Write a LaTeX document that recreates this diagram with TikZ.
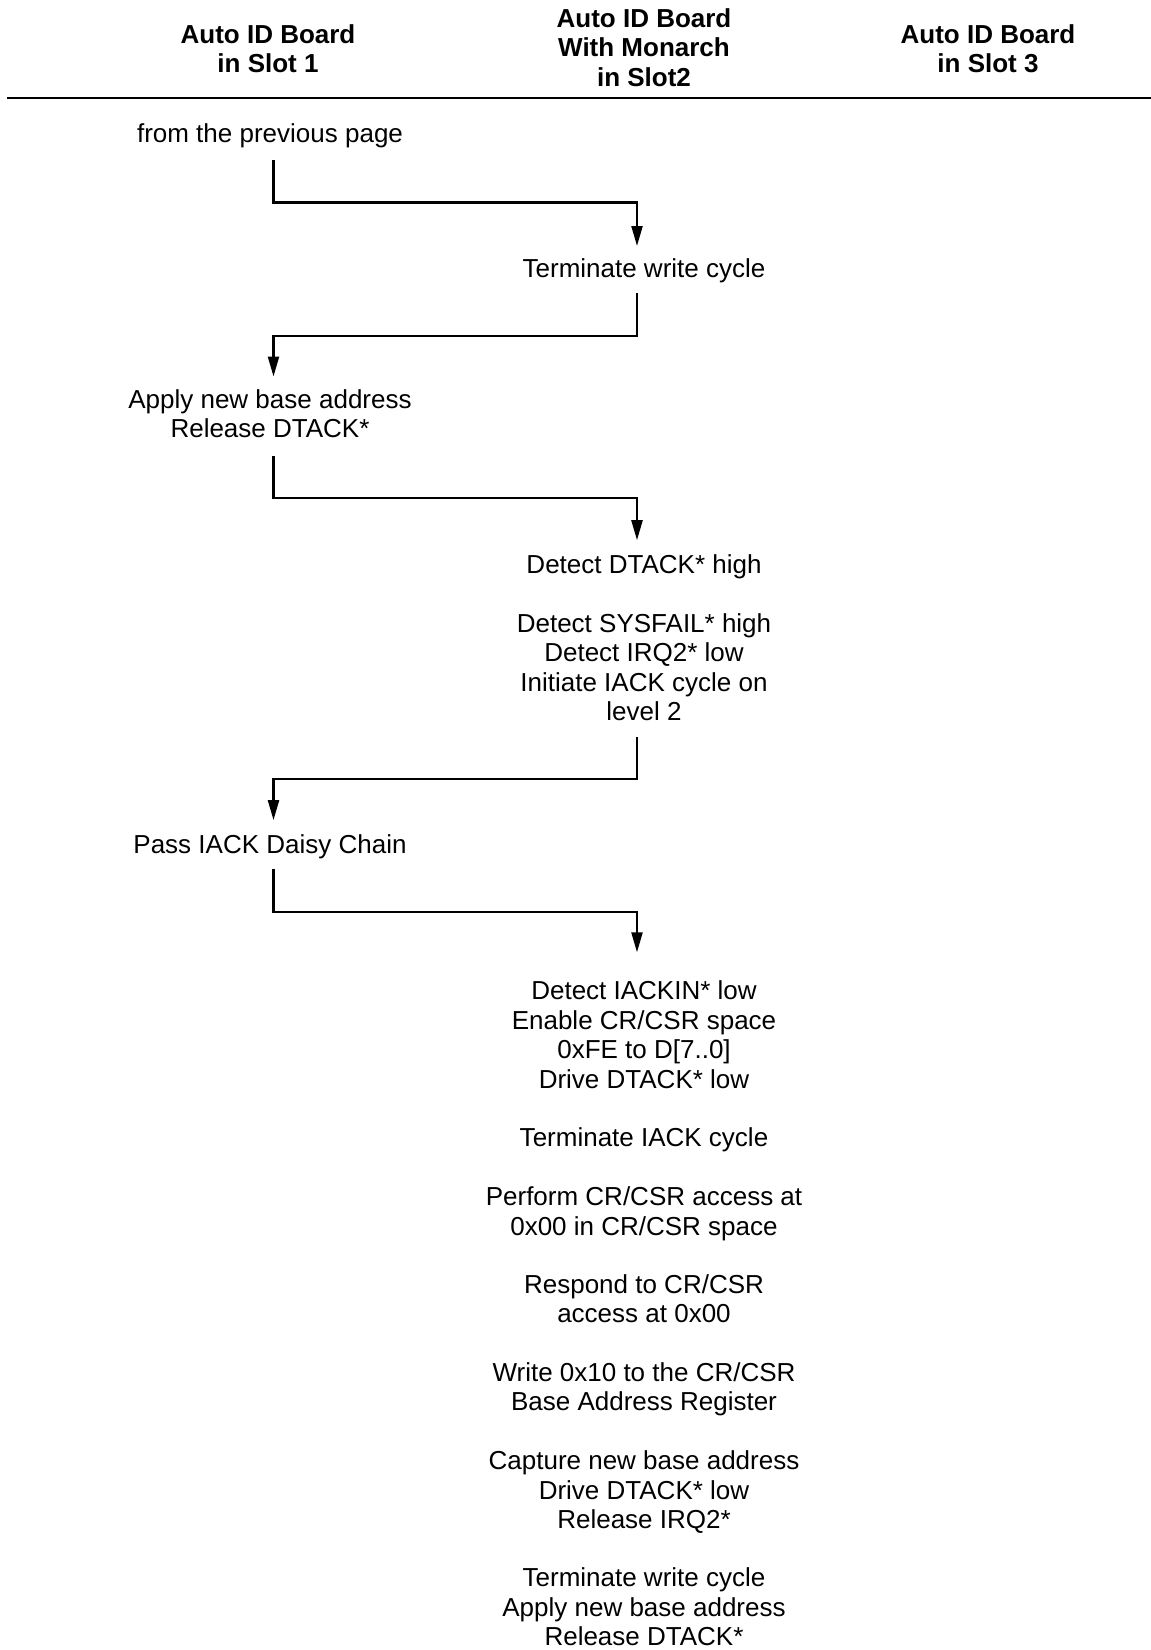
\documentclass[tikz,border=0pt]{standalone}
\usepackage{fontspec}
\setmainfont{Liberation Sans}
\usetikzlibrary{arrows.meta}
\newcommand\mystrut{\rule[-6.5pt]{0pt}{27.5pt}}
\begin{document}
\begin{tikzpicture}[x=1pt,y=-1pt,
  txt/.style={font=\fontsize{26}{29.5}\selectfont, align=center, inner sep=0pt, anchor=north},
  hdr/.style={txt, font=\fontsize{26}{29.5}\selectfont\bfseries},
  flow/.style={line width=2.2pt, -{Triangle[length=20pt,width=11pt]}},
  rulel/.style={line width=1.4pt}
]
\useasboundingbox (0,0) rectangle (1151,1650);
% headers
\node[hdr] (h1) at (268,22) {\mystrut Auto ID Board\\\mystrut in Slot 1};
\node[hdr] (h2) at (644,6.2) {\mystrut Auto ID Board\\\mystrut With Monarch\\\mystrut in Slot2};
\node[hdr] (h3) at (988,22) {\mystrut Auto ID Board\\\mystrut in Slot 3};
\coordinate (r1) at (7,97.8);
\coordinate (r2) at (1151,97.8);
\draw[rulel] (r1) -- (r2);
% steps
\node[txt] (prev) at (270,120.9) {\mystrut from the previous page};
\node[txt] (term1) at (644,256.6) {\mystrut Terminate write cycle};
\node[txt] (apply1) at (270,387.0) {\mystrut Apply new base address\\\mystrut Release DTACK*};
\node[txt] (ddh) at (644,552.2) {\mystrut Detect DTACK* high};
\node[txt] (sysf) at (644,611.1) {\mystrut Detect SYSFAIL* high\\\mystrut Detect IRQ2* low\\\mystrut Initiate IACK cycle on\\\mystrut level 2};
\node[txt] (pass) at (270,832.1) {\mystrut Pass IACK Daisy Chain};
\node[txt] (iackin) at (644,978.3) {\mystrut Detect IACKIN* low\\\mystrut Enable CR/CSR space\\\mystrut 0xFE to D[7..0]\\\mystrut Drive DTACK* low};
\node[txt] (tiack) at (644,1125.6) {\mystrut Terminate IACK cycle};
\node[txt] (perf) at (644,1184.5) {\mystrut Perform CR/CSR access at\\\mystrut 0x00 in CR/CSR space};
\node[txt] (resp) at (644,1271.9) {\mystrut Respond to CR/CSR\\\mystrut access at 0x00};
\node[txt] (write) at (644,1360.2) {\mystrut Write 0x10 to the CR/CSR\\\mystrut Base Address Register};
\node[txt] (capt) at (644,1448.6) {\mystrut Capture new base address\\\mystrut Drive DTACK* low\\\mystrut Release IRQ2*};
\node[txt] (term2) at (644,1565.4) {\mystrut Terminate write cycle\\\mystrut Apply new base address\\\mystrut Release DTACK*};
% bends
\coordinate (a1) at (273.5,202.5);  \coordinate (a2) at (637,202.5);
\coordinate (b1) at (637,336);  \coordinate (b2) at (273.5,336);
\coordinate (c1) at (273.5,497.6);  \coordinate (c2) at (637,497.6);
\coordinate (d1) at (637,778.6);  \coordinate (d2) at (273.5,778.6);
\coordinate (e1) at (273.5,912.2);  \coordinate (e2) at (637,912.2);
% connectors
\draw[flow, shorten <=11.6pt, shorten >=10.6pt] (prev.south -| a1) -- (a1) -- (a2) -- (term1.north -| a2);
\draw[flow, shorten <=8.4pt, shorten >=10.5pt] (term1.south -| b1) -- (b1) -- (b2) -- (apply1.north -| b2);
\draw[flow, shorten <=11.6pt, shorten >=12pt] (apply1.south -| c1) -- (c1) -- (c2) -- (ddh.north -| c2);
\draw[flow, shorten <=9.5pt, shorten >=12pt] (sysf.south -| d1) -- (d1) -- (d2) -- (pass.north -| d2);
\draw[flow, shorten <=9.4pt, shorten >=26pt] (pass.south -| e1) -- (e1) -- (e2) -- (iackin.north -| e2);
\end{tikzpicture}
\end{document}
